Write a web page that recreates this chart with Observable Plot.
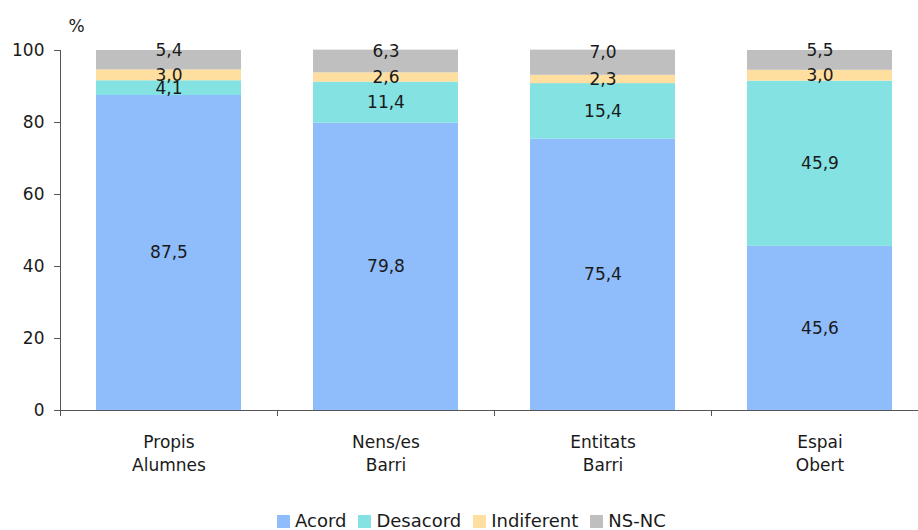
<!DOCTYPE html>
<html>
<head>
<meta charset="utf-8">
<script src="https://cdn.jsdelivr.net/npm/d3@7"></script>
<script src="https://cdn.jsdelivr.net/npm/@observablehq/plot@0.6"></script>
<style>
  html, body { margin: 0; padding: 0; background: #fff; overflow: hidden; width: 918px; height: 530px; }
  #wrap { position: relative; width: 918px; height: 530px; overflow: hidden; font-family: "DejaVu Sans", Verdana, sans-serif; color: #1a1a1a; }
  #chart svg { overflow: hidden; }
  #legend { position: absolute; left: 277px; top: 511px; display: flex; align-items: center; font-size: 18px; line-height: 20px; white-space: nowrap; }
  #legend .item { display: flex; align-items: center; margin-right: 12px; }
  #legend .sw { width: 13px; height: 13px; margin-right: 5px; }
</style>
</head>
<body>
<div id="wrap">
  <div id="chart"></div>
  <div id="legend"></div>
</div>
<script>
const categories = ["Propis\nAlumnes", "Nens/es\nBarri", "Entitats\nBarri", "Espai\nObert"];
const seriesNames = ["Acord", "Desacord", "Indiferent", "NS-NC"];
const seriesColors = ["#8fbcfa", "#84e2e2", "#fedf9f", "#bfbfbf"];
const acord = [87.5, 79.8, 75.4, 45.6];
const desacord = [4.1, 11.4, 15.4, 45.9];
const indiferent = [3.0, 2.6, 2.3, 3.0];
const nsnc = [5.4, 6.3, 7.0, 5.5];
const yTicks = [0, 20, 40, 60, 80, 100];

const seriesValues = [acord, desacord, indiferent, nsnc];
const data = [];
categories.forEach((c, i) => {
  seriesNames.forEach((s, j) => data.push({cat: c, series: s, value: seriesValues[j][i]}));
});
const fmt = v => v.toFixed(1).replace(".", ",");

const W = 918, ML = 60, MR = -10;
const step = (W - ML - MR) / categories.length;

const plot = Plot.plot({
  width: W,
  height: 500,
  marginLeft: ML,
  marginRight: MR,
  marginTop: 50,
  marginBottom: 90,
  style: {fontFamily: "DejaVu Sans, Verdana, sans-serif", fontSize: "17px", color: "#1a1a1a", background: "#fff", overflow: "hidden"},
  x: {domain: categories, range: [ML, W - MR], paddingInner: 0.332, paddingOuter: 0.166, axis: null},
  y: {domain: [0, 100], axis: null},
  color: {domain: seriesNames, range: seriesColors},
  marks: [
    Plot.barY(data, Plot.stackY({x: "cat", y: "value", z: "series", fill: "series", order: seriesNames})),
    Plot.text(data, Plot.stackY({x: "cat", y: "value", z: "series", order: seriesNames,
      text: d => d.series === "NS-NC" ? "" : fmt(d.value), fill: "#1a1a1a", fontSize: 17})),
    Plot.text(data, Plot.stackY({x: "cat", y: "value", z: "series", order: seriesNames,
      text: d => d.series === "NS-NC" ? fmt(d.value) : "", fill: "#1a1a1a", fontSize: 17, dy: -10})),
    Plot.axisY({ticks: yTicks, tickSize: 6, tickPadding: 10, stroke: "#555", tickFormat: d => String(d), label: null, fontSize: 17, fill: "#1a1a1a"}),
    Plot.frame({anchor: "left", stroke: "#555"}),
    Plot.ruleY([0], {stroke: "#555"}),
    Plot.ruleX(categories, {x: d => d, dx: -step / 2, y1: 0, y2: 0, insetBottom: -6, stroke: "#555"}),
    Plot.text(categories, {x: d => d, frameAnchor: "bottom", lineAnchor: "top", dy: 20, lineHeight: 1.41, text: d => d, fill: "#1a1a1a", fontSize: 17}),
    Plot.text(["%"], {frameAnchor: "top-left", textAnchor: "middle", dx: 16, dy: -31, text: d => d, fill: "#1a1a1a", fontSize: 17})
  ]
});
document.getElementById("chart").appendChild(plot);

const legend = document.getElementById("legend");
seriesNames.forEach((s, i) => {
  const item = document.createElement("div");
  item.className = "item";
  const sw = document.createElement("span");
  sw.className = "sw";
  sw.style.background = seriesColors[i];
  const t = document.createElement("span");
  t.textContent = s;
  item.appendChild(sw);
  item.appendChild(t);
  legend.appendChild(item);
});
</script>
</body>
</html>
